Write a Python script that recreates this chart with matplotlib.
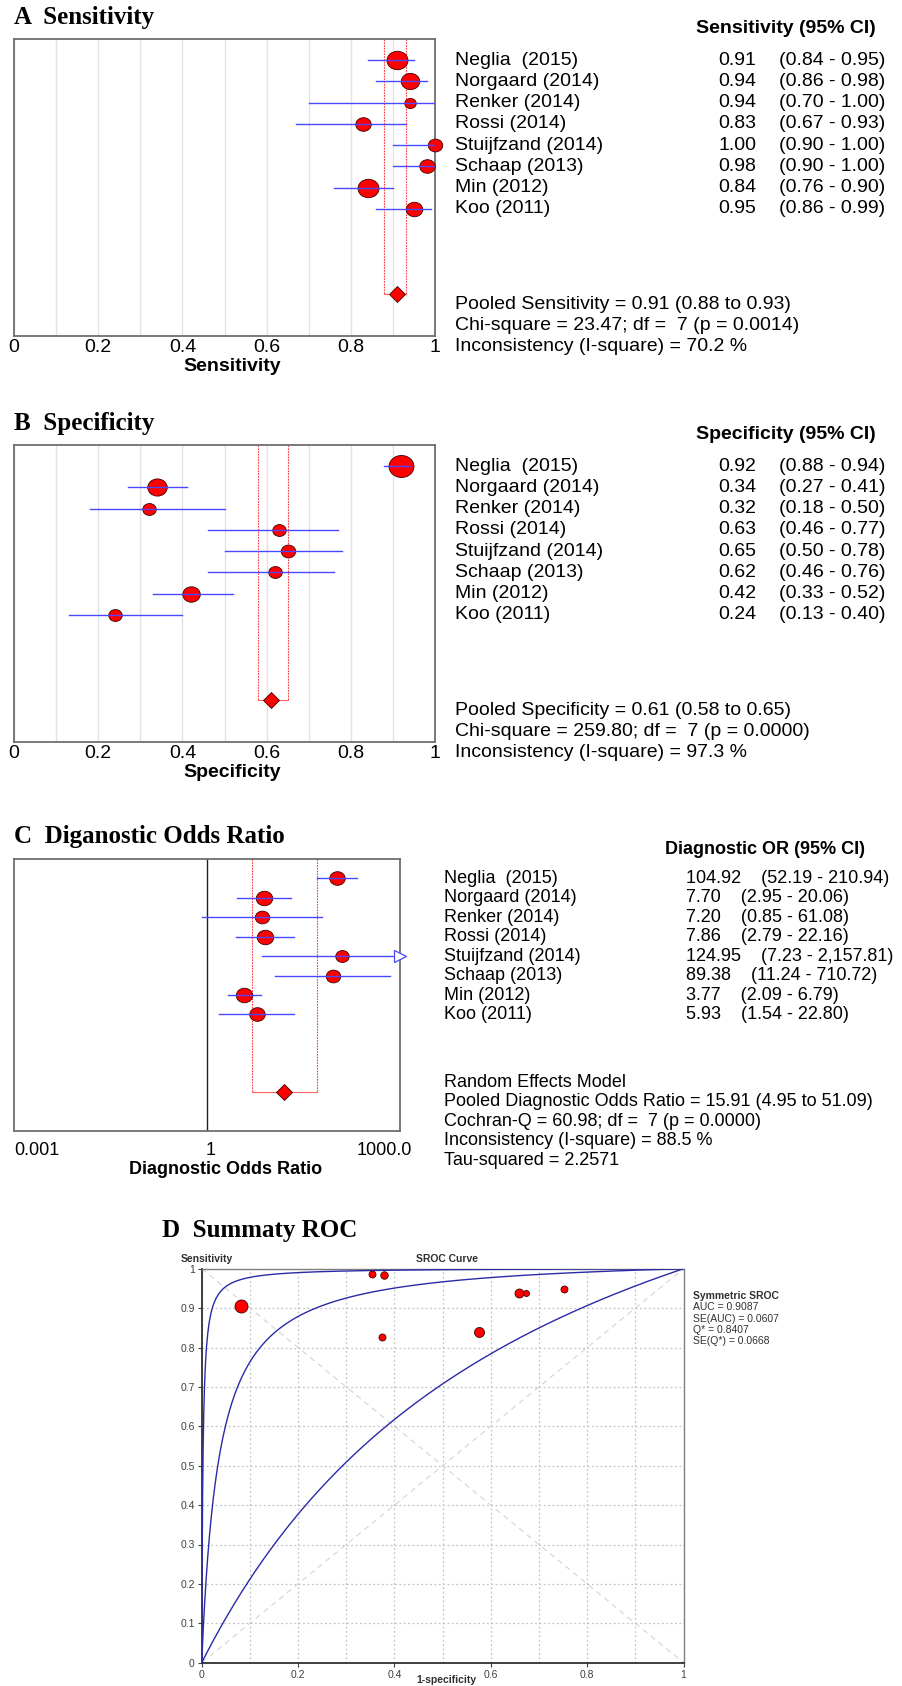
import numpy as np
import matplotlib
matplotlib.use('Agg')
import matplotlib.pyplot as plt
from matplotlib import transforms
from matplotlib.path import Path
from matplotlib.markers import MarkerStyle

plt.rcParams['font.family'] = ['Liberation Sans', 'DejaVu Sans']

# ---- data ----
studies = ["Neglia  (2015)", "Norgaard (2014)", "Renker (2014)", "Rossi (2014)",
           "Stuijfzand (2014)", "Schaap (2013)", "Min (2012)", "Koo (2011)"]

sens = [0.91, 0.94, 0.94, 0.83, 1.00, 0.98, 0.84, 0.95]
sens_lo = [0.84, 0.86, 0.70, 0.67, 0.90, 0.90, 0.76, 0.86]
sens_hi = [0.95, 0.98, 1.00, 0.93, 1.00, 1.00, 0.90, 0.99]
sens_w = [21, 18.5, 11.5, 15.5, 14.5, 15.5, 21, 16.5]
sens_pool = [0.91, 0.88, 0.93]

spec = [0.92, 0.34, 0.32, 0.63, 0.65, 0.62, 0.42, 0.24]
spec_lo = [0.88, 0.27, 0.18, 0.46, 0.50, 0.46, 0.33, 0.13]
spec_hi = [0.94, 0.41, 0.50, 0.77, 0.78, 0.76, 0.52, 0.40]
spec_w = [25, 19.5, 13.5, 13.5, 14.5, 13.5, 17.5, 13.5]
spec_pool = [0.61, 0.58, 0.65]

dor = [104.92, 7.70, 7.20, 7.86, 124.95, 89.38, 3.77, 5.93]
dor_lo = [52.19, 2.95, 0.85, 2.79, 7.23, 11.24, 2.09, 1.54]
dor_hi = [210.94, 20.06, 61.08, 22.16, 2157.81, 710.72, 6.79, 22.80]
dor_w = [15.5, 16.5, 14.5, 16.5, 13.5, 14.5, 16.5, 15.5]
dor_pool = [15.91, 4.95, 51.09]

# SROC plot: study points (1-specificity, sensitivity) and curve DORs
roc_fpr = [0.082, 0.658, 0.673, 0.374, 0.354, 0.378, 0.576, 0.753]
roc_tpr = [0.905, 0.939, 0.939, 0.826, 0.987, 0.983, 0.839, 0.949]
roc_w = [13, 9, 6, 7, 7, 7.5, 10, 7]
sroc_dor = [400, 29, 2.42]

sens_stats = ["Pooled Sensitivity = 0.91 (0.88 to 0.93)",
              "Chi-square = 23.47; df =  7 (p = 0.0014)",
              "Inconsistency (I-square) = 70.2 %"]
spec_stats = ["Pooled Specificity = 0.61 (0.58 to 0.65)",
              "Chi-square = 259.80; df =  7 (p = 0.0000)",
              "Inconsistency (I-square) = 97.3 %"]
dor_stats = ["Random Effects Model",
             "Pooled Diagnostic Odds Ratio = 15.91 (4.95 to 51.09)",
             "Cochran-Q = 60.98; df =  7 (p = 0.0000)",
             "Inconsistency (I-square) = 88.5 %",
             "Tau-squared = 2.2571"]
sroc_stats = ["Symmetric SROC", "AUC = 0.9087", "SE(AUC) = 0.0607",
              "Q* = 0.8407", "SE(Q*) = 0.0668"]

W, H = 902, 1686
fig = plt.figure(figsize=(W / 100, H / 100), dpi=100)

BLUE = '#4848ff'
RED = '#ff0000'
FS_AB = 14
FS_C = 13
ell = MarkerStyle(Path.unit_circle().transformed(transforms.Affine2D().scale(1, 0.88)))


def add_ax(l, t, r, b):
    return fig.add_axes([l / W, 1 - b / H, (r - l) / W, (b - t) / H])


def rtext(ax, x_px, row, s, **kw):
    tr = transforms.blended_transform_factory(fig.transFigure, ax.transData)
    ax.text(x_px / W, row, s, transform=tr, va='center', clip_on=False, **kw)


def title(x_px, y_px, s):
    fig.text(x_px / W, 1 - y_px / H, s, family='Liberation Serif', weight='bold',
             fontsize=18, va='baseline')


def forest(ax, est, lo, hi, w, pool, xmax=None):
    n = len(est)
    ax.set_ylim(13, -1)
    for i in range(n):
        h = hi[i] if xmax is None else min(hi[i], xmax)
        ax.plot([lo[i], h], [i, i], color=BLUE, lw=1.0, zorder=4)
        if xmax is not None and hi[i] > xmax:
            ax.plot(h, i, marker='>', ms=8, mfc='white', mec=BLUE, mew=0.9,
                    zorder=5, clip_on=False)
        ax.plot(est[i], i, marker=ell, ms=w[i] * 0.72, mfc=RED, mec='#400000',
                mew=0.6, zorder=3, clip_on=False)
    ax.plot([pool[1], pool[1]], [-1, n + 3], ls=(0, (1.5, 1)), color='#ff4040', lw=0.8, zorder=2)
    ax.plot([pool[2], pool[2]], [-1, n + 3], ls=(0, (1.5, 1)), color='#ff4040', lw=0.8, zorder=2)
    ax.plot([pool[1], pool[2]], [n + 3, n + 3], color='#ff6060', lw=0.8, zorder=2)
    ax.plot(pool[0], n + 3, marker='D', ms=8.5, mfc=RED, mec='#400000', mew=0.6, zorder=3)
    ax.set_yticks([])
    for s in ax.spines.values():
        s.set_color('#6e6e6e')
        s.set_linewidth(1.3)
    ax.tick_params(axis='x', length=0, labelsize=FS_AB, pad=2)


# ---- A and B ----
for k, (est, lo, hi, w, pool, top, name, stats, ttl) in enumerate([
        (sens, sens_lo, sens_hi, sens_w, sens_pool, 39, 'Sensitivity', sens_stats, 'A  Sensitivity'),
        (spec, spec_lo, spec_hi, spec_w, spec_pool, 445, 'Specificity', spec_stats, 'B  Specificity')]):
    ax = add_ax(14, top, 435, top + 297)
    ax.set_xlim(0, 1)
    ax.set_xticks(np.arange(0.1, 1.0, 0.1), minor=True)
    ax.tick_params(axis='x', which='minor', length=0)
    ax.grid(axis='x', which='both', color='#e2e2e2', lw=1)
    ax.set_axisbelow(True)
    forest(ax, est, lo, hi, w, pool)
    ax.set_xticks([0, 0.2, 0.4, 0.6, 0.8, 1])
    ax.set_xticklabels(['0', '0.2', '0.4', '0.6', '0.8', '1'])
    ax.set_xlabel(name, fontsize=FS_AB, weight='bold', labelpad=1)
    ax.xaxis.set_label_coords(0.519, -0.075)
    title(14, top - 15, ttl)
    rtext(ax, 696, -1.5, name + ' (95% CI)', fontsize=FS_AB, weight='bold')
    for i, st in enumerate(studies):
        rtext(ax, 455, i, st, fontsize=FS_AB)
        rtext(ax, 718, i, f"{est[i]:.2f}", fontsize=FS_AB)
        rtext(ax, 779, i, f"({lo[i]:.2f} - {hi[i]:.2f})", fontsize=FS_AB)
    for j, s in enumerate(stats):
        rtext(ax, 455, 11.5 + j, s, fontsize=FS_AB)

# ---- C ----
ax = add_ax(14, 859, 400, 1131)
ax.set_xscale('log')
ax.set_xlim(1e-3, 1e3)
ax.axvline(1, color='#202020', lw=1, zorder=1)
forest(ax, dor, dor_lo, dor_hi, dor_w, dor_pool, xmax=1e3)
ax.set_xticks([])
ax.minorticks_off()
tr = transforms.blended_transform_factory(ax.transData, ax.transAxes)
ax.text(1e-3, -0.04, '0.001', transform=tr, ha='left', va='top', fontsize=FS_C)
ax.text(1, -0.04, '1', transform=transforms.offset_copy(tr, fig, x=4, units='dots'),
        ha='center', va='top', fontsize=FS_C)
ax.text(1e3, -0.04, '1000.0', transform=transforms.offset_copy(tr, fig, x=12, units='dots'),
        ha='right', va='top', fontsize=FS_C)
ax.text(0.548, -0.11, 'Diagnostic Odds Ratio', transform=ax.transAxes, ha='center', va='top',
        fontsize=FS_C, weight='bold')
title(14, 842.7, 'C  Diganostic Odds Ratio')
rtext(ax, 665, -1.5, 'Diagnostic OR (95% CI)', fontsize=FS_C, weight='bold')
for i, st in enumerate(studies):
    rtext(ax, 444, i, st, fontsize=FS_C)
    rtext(ax, 686, i, f"{dor[i]:.2f}    ({dor_lo[i]:,.2f} - {dor_hi[i]:,.2f})", fontsize=FS_C)
for j, s in enumerate(dor_stats):
    rtext(ax, 444, 10.5 + j, s, fontsize=FS_C)

# ---- D ----
title(162, 1236.7, 'D  Summaty ROC')
ax = add_ax(201.7, 1268.7, 683.5, 1662.7)
ax.set_xlim(0, 1)
ax.set_ylim(0, 1)
ax.set_xticks(np.arange(0, 1.01, 0.2))
ax.set_xticklabels(['0', '0.2', '0.4', '0.6', '0.8', '1'])
ax.set_xticks(np.arange(0.1, 1.0, 0.2), minor=True)
ax.set_yticks(np.arange(0, 1.01, 0.1))
ax.set_yticklabels(['0'] + [f"{v:.1f}" for v in np.arange(0.1, 0.95, 0.1)] + ['1'])
ax.grid(which='both', ls=(0, (1.5, 2)), color='#c4c4c4', lw=0.9)
ax.tick_params(which='both', length=3, labelsize=7.5, colors='#404040', pad=2)
ax.tick_params(which='minor', length=0)
ax.plot([0, 1], [0, 1], ls=(0, (5, 4)), color='#d4d4d4', lw=0.8)
ax.plot([0, 1], [1, 0], ls=(0, (5, 4)), color='#d4d4d4', lw=0.8)
fpr = np.concatenate([np.geomspace(1e-7, 0.01, 400), np.linspace(0.01, 1, 800)])
for d in sroc_dor:
    tpr = 1 / (1 + (1 - fpr) / (fpr * d))
    ax.plot(fpr, tpr, color='#2a2aa8', lw=1.0, zorder=3)
for i in range(len(roc_fpr)):
    ax.plot(roc_fpr[i], roc_tpr[i], 'o', ms=roc_w[i] * 0.72, mfc=RED, mec='#400000',
            mew=0.6, zorder=4)
for side in ['left', 'bottom']:
    ax.spines[side].set_color('#303030')
    ax.spines[side].set_linewidth(1.3)
for side in ['top', 'right']:
    ax.spines[side].set_color('#808080')
    ax.spines[side].set_linewidth(1.0)
fig.text(181 / W, 1 - 1262 / H, 'Sensitivity', fontsize=7.5, weight='bold', color='#303030',
         va='baseline')
fig.text(447 / W, 1 - 1262 / H, 'SROC Curve', fontsize=7.5, weight='bold', color='#303030',
         va='baseline', ha='center')
fig.text(446.7 / W, 1 - 1680 / H, '1-specificity', fontsize=7.5, weight='bold',
         color='#303030', va='center', ha='center')
for j, s in enumerate(sroc_stats):
    fig.text(693 / W, 1 - (1296 + 11.3 * j) / H, s, fontsize=7.5, color='#303030',
             va='center', weight='bold' if j == 0 else 'normal')

fig.savefig('out.png', dpi=100, facecolor='white')
